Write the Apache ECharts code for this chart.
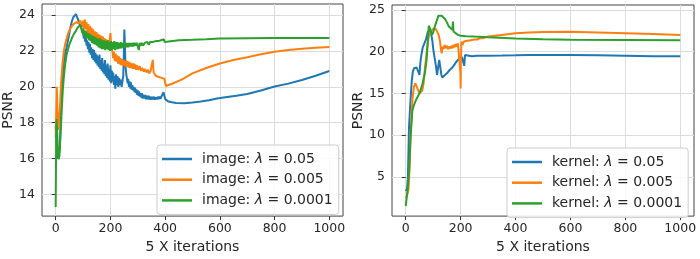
<!DOCTYPE html>
<html>
<head>
<meta charset="utf-8">
<script src="https://cdn.jsdelivr.net/npm/echarts@6.0.0/dist/echarts.min.js"></script>
<style>
html,body{margin:0;padding:0;background:#fff;}
#chart{width:700px;height:259px;}
</style>
</head>
<body>
<div id="chart"></div>
<script>
// ---------- data ----------
const xTicks = [0, 200, 400, 600, 800, 1000];
const yTicksImage = [14, 16, 18, 20, 22, 24];
const yTicksKernel = [5, 10, 15, 20, 25];

const imageNames = ['image: λ = 0.05', 'image: λ = 0.005', 'image: λ = 0.0001'];
const kernelNames = ['kernel: λ = 0.05', 'kernel: λ = 0.005', 'kernel: λ = 0.0001'];

const imageL005 = [[0,17.8],[3,17.0],[6,16.5],[9,16.0],[12,15.9],[15,16.6],[18,18.0],[22,19.6],[26,20.7],[30,21.4],[35,21.9],[40,22.2],[45,22.6],[50,23.0],[55,23.4],[60,23.7],[65,23.9],[70,24.0],[74,24.05],[78,23.95],[82,23.75],[86,23.55],[90,23.4],[95,23.2],[100,23.0],[103,22.7],[105,22.9],[108,22.5],[110,22.75],[113,22.3],[115,22.6],[118,22.1],[120,22.5],[123,21.9],[125,22.4],[128,21.8],[130,22.2],[133,21.6],[135,22.1],[138,21.5],[140,22.05],[143,21.4],[145,21.9],[148,21.3],[150,21.8],[153,21.2],[155,21.7],[158,21.1],[160,21.8],[163,21.0],[165,21.5],[168,20.9],[170,21.6],[173,20.8],[175,21.3],[178,20.7],[180,21.5],[183,20.6],[185,21.2],[188,20.5],[190,21.3],[193,20.4],[195,21.0],[198,20.3],[200,21.2],[203,20.2],[205,20.9],[208,20.3],[210,20.8],[213,20.1],[215,20.6],[218,19.9],[220,20.7],[223,20.1],[226,20.6],[229,20.0],[232,20.5],[235,20.1],[238,20.4],[241,20.0],[244,20.3],[247,20.6],[249,21.8],[251,23.2],[253,22.3],[255,21.2],[258,20.7],[260,20.5],[263,20.2],[265,20.45],[268,20.0],[270,20.3],[273,19.9],[275,20.25],[278,19.85],[280,20.1],[283,19.8],[285,20.0],[288,19.7],[290,19.95],[293,19.65],[295,19.85],[298,19.55],[300,19.8],[303,19.5],[305,19.75],[308,19.45],[310,19.65],[313,19.4],[315,19.65],[318,19.35],[320,19.55],[325,19.35],[328,19.55],[330,19.3],[333,19.5],[336,19.3],[340,19.5],[343,19.3],[346,19.45],[350,19.28],[353,19.45],[356,19.3],[360,19.45],[363,19.28],[366,19.42],[370,19.3],[373,19.45],[376,19.32],[380,19.45],[383,19.32],[386,19.45],[390,19.38],[394,19.7],[397,19.5],[401,19.3],[410,19.2],[420,19.15],[440,19.1],[470,19.08],[500,19.12],[530,19.18],[560,19.25],[590,19.35],[620,19.42],[660,19.5],[700,19.6],[750,19.8],[800,20.02],[850,20.18],[900,20.38],[950,20.62],[1000,20.88]];

const imageL0005 = [[0,17.2],[2,18.5],[4,20.0],[6,18.8],[8,17.8],[10,17.6],[13,18.2],[16,19.0],[20,20.3],[25,21.3],[30,22.0],[35,22.4],[40,22.7],[45,22.95],[50,23.15],[55,23.3],[60,23.4],[65,23.5],[70,23.55],[75,23.6],[80,23.65],[85,23.55],[90,23.7],[95,23.75],[98,23.35],[101,23.7],[104,23.2],[107,23.75],[110,23.2],[113,23.6],[116,23.0],[119,23.5],[122,22.9],[125,23.4],[128,22.8],[131,23.3],[134,22.75],[137,23.2],[140,22.7],[143,23.1],[146,22.6],[149,23.05],[152,22.55],[155,22.95],[158,22.5],[161,22.9],[164,22.45],[167,22.85],[170,22.4],[173,22.8],[176,22.35],[179,22.7],[182,22.3],[185,22.65],[188,22.25],[191,22.6],[194,22.3],[197,22.5],[200,23.0],[203,22.2],[207,22.0],[210,21.6],[213,21.95],[216,21.45],[219,21.85],[222,21.4],[225,21.75],[228,21.3],[231,21.7],[234,21.25],[237,21.6],[240,21.2],[243,21.55],[246,21.2],[249,21.5],[252,21.15],[255,21.45],[258,21.1],[261,21.45],[264,21.1],[267,21.4],[270,21.05],[273,21.35],[276,21.05],[279,21.3],[282,21.0],[285,21.3],[288,21.0],[291,21.25],[294,20.95],[297,21.2],[302,20.95],[307,21.15],[312,20.9],[317,21.05],[322,20.85],[327,21.0],[332,20.8],[337,20.95],[342,20.75],[347,20.9],[352,20.85],[355,21.5],[358,20.8],[362,20.75],[367,20.6],[372,20.7],[377,20.55],[382,20.65],[387,20.5],[392,20.6],[397,20.45],[400,20.5],[403,20.05],[410,20.05],[430,20.2],[460,20.4],[500,20.75],[550,21.05],[600,21.3],[650,21.5],[700,21.65],[750,21.82],[800,21.96],[850,22.05],[900,22.12],[950,22.18],[1000,22.22]];

const imageL00001 = [[0,13.3],[1,15.5],[2,17.5],[3,18.2],[5,17.6],[8,16.6],[11,15.95],[14,16.2],[18,17.4],[22,18.7],[26,19.8],[30,20.6],[35,21.3],[40,21.8],[45,22.1],[50,22.35],[55,22.55],[60,22.75],[65,22.9],[70,23.0],[75,23.15],[80,23.3],[85,23.4],[90,23.45],[94,23.3],[97,23.0],[100,23.25],[103,22.85],[106,23.15],[109,22.75],[112,23.1],[115,22.7],[118,23.0],[121,22.6],[124,22.95],[127,22.55],[130,22.9],[133,22.45],[136,22.85],[139,22.4],[142,22.8],[145,22.35],[148,22.75],[151,22.3],[154,22.7],[157,22.2],[160,22.7],[163,22.15],[166,22.65],[169,22.1],[172,22.6],[175,22.1],[178,22.6],[181,22.05],[184,22.55],[187,22.1],[190,22.6],[193,22.05],[196,22.5],[199,22.0],[202,22.55],[205,22.05],[208,22.5],[211,22.1],[214,22.55],[217,22.05],[220,22.5],[223,22.1],[226,22.5],[229,22.1],[232,22.45],[235,22.15],[238,22.5],[241,22.15],[244,22.45],[247,22.2],[250,22.5],[253,22.2],[256,22.45],[259,22.2],[262,22.45],[265,22.2],[268,22.45],[271,22.25],[274,22.45],[277,22.25],[280,22.45],[284,22.25],[288,22.45],[292,22.3],[296,22.45],[300,22.35],[304,22.05],[307,22.45],[311,22.3],[315,22.45],[320,22.3],[325,22.45],[330,22.35],[335,22.5],[340,22.35],[345,22.5],[350,22.4],[355,22.5],[360,22.4],[365,22.55],[370,22.45],[375,22.55],[380,22.45],[385,22.6],[390,22.5],[395,22.65],[398,22.5],[402,22.58],[450,22.6],[500,22.62],[550,22.65],[600,22.7],[700,22.71],[800,22.72],[900,22.72],[1000,22.73]];

const kernelL005 = [[0,3.3],[5,3.6],[8,5.0],[12,11.0],[18,14.5],[22,16.5],[26,17.6],[30,18.0],[35,18.2],[40,18.1],[45,17.9],[50,17.2],[53,18.6],[57,19.6],[62,20.5],[68,21.0],[74,21.5],[80,22.3],[86,22.6],[92,22.2],[97,21.3],[101,20.1],[105,19.3],[110,18.3],[114,17.2],[118,17.4],[122,19.0],[126,18.8],[130,17.2],[133,16.9],[140,17.1],[150,17.4],[160,17.8],[170,18.1],[176,18.3],[185,18.8],[195,19.2],[205,19.35],[210,19.45],[213,18.3],[216,19.6],[222,19.5],[240,19.45],[260,19.5],[300,19.5],[350,19.52],[400,19.55],[450,19.6],[500,19.6],[600,19.6],[700,19.55],[800,19.5],[900,19.45],[1000,19.45]];

const kernelL0005 = [[0,2.5],[5,2.8],[10,3.5],[14,6.0],[18,10.0],[22,13.0],[26,14.8],[30,15.8],[35,16.2],[40,15.8],[45,15.4],[50,15.0],[55,15.2],[60,15.3],[65,16.2],[70,18.0],[75,19.5],[80,21.0],[85,22.0],[90,22.4],[95,22.6],[100,22.7],[105,22.9],[110,22.7],[115,22.5],[120,22.0],[125,21.2],[128,20.3],[131,19.8],[134,20.6],[138,20.3],[142,20.8],[146,20.4],[150,20.7],[154,20.3],[158,20.6],[162,20.35],[166,20.7],[170,20.4],[174,20.8],[178,20.5],[182,20.9],[186,20.6],[190,21.0],[194,20.8],[197,21.1],[199,17.5],[200,15.6],[201,19.0],[203,21.2],[207,20.8],[212,21.2],[218,21.0],[224,21.3],[230,21.1],[236,21.35],[242,21.25],[250,21.45],[260,21.45],[270,21.6],[280,21.6],[290,21.7],[300,21.8],[350,22.0],[400,22.2],[450,22.3],[500,22.35],[600,22.38],[700,22.3],[800,22.2],[900,22.1],[1000,22.0]];

const kernelL00001 = [[0,1.5],[6,3.2],[12,5.5],[17,9.5],[24,12.9],[30,13.6],[36,14.1],[42,14.5],[50,15.0],[60,16.0],[70,17.5],[76,19.0],[80,21.0],[84,23.1],[88,22.8],[92,22.4],[96,22.0],[100,22.3],[104,22.8],[108,23.2],[114,23.8],[119,24.3],[125,24.35],[131,24.3],[137,24.4],[143,23.9],[150,23.5],[157,23.0],[164,22.8],[170,22.6],[172,23.6],[174,22.4],[180,22.3],[190,22.0],[200,21.9],[220,21.85],[250,21.8],[300,21.72],[400,21.58],[500,21.48],[600,21.42],[800,21.38],[1000,21.35]];

// ---------- chart ----------
const colors = ['#1f77b4', '#ff7f0e', '#2ca02c'];
const FONT = 'DejaVu Sans';
const textCol = '#262626';

function xAxisCfg(gi) {
  return {
    gridIndex: gi, type: 'value', min: -50, max: 1050,
    name: '5 X iterations', nameLocation: 'middle', nameGap: 19,
    nameTextStyle: { fontSize: 14, fontFamily: FONT, color: textCol },
    axisLine: { show: false },
    axisTick: { show: true, inside: false, length: 4, customValues: xTicks, lineStyle: { color: '#333', width: 1 } },
    axisLabel: { customValues: xTicks, fontSize: 12.5, fontFamily: FONT, color: textCol, margin: 6,
      formatter: function (v) { return String(v); } },
    splitLine: { show: true, lineStyle: { color: '#dcdcdc', width: 1 } }
  };
}
function yAxisCfg(gi, min, max, ticks) {
  return {
    gridIndex: gi, type: 'value', min: min, max: max,
    name: 'PSNR', nameLocation: 'middle', nameGap: 25,
    nameTextStyle: { fontSize: 14, fontFamily: FONT, color: textCol },
    axisLine: { show: false },
    axisTick: { show: true, inside: false, length: 4, customValues: ticks, lineStyle: { color: '#333', width: 1 } },
    axisLabel: { customValues: ticks, fontSize: 12.5, fontFamily: FONT, color: textCol, margin: 7,
      formatter: function (v) { return String(v); } },
    splitLine: { show: true, lineStyle: { color: '#dcdcdc', width: 1 } }
  };
}
function legendCfg(names, left, top) {
  return {
    data: names, orient: 'vertical', left: left, top: top,
    icon: 'rect', itemWidth: 30, itemHeight: 2.5, itemGap: 6.7,
    padding: [7, 6, 7, 5],
    backgroundColor: 'rgba(255,255,255,0.85)',
    borderColor: '#cccccc', borderWidth: 1, borderRadius: 3,
    formatter: function (n) { return '{s|}' + n.replace('λ', '{i|λ}'); },
    textStyle: {
      fontSize: 14, fontFamily: FONT, color: textCol, lineHeight: 14,
      rich: {
        s: { width: 5 },
        i: { fontStyle: 'italic', fontSize: 14, fontFamily: FONT, color: textCol, lineHeight: 14 }
      }
    }
  };
}
function lineSeries(name, data, idx, ci) {
  return {
    name: name, type: 'line', xAxisIndex: idx, yAxisIndex: idx, data: data,
    showSymbol: false, symbol: 'none', animation: false,
    lineStyle: { color: colors[ci], width: 2 }, itemStyle: { color: colors[ci] },
    z: 2 + ci
  };
}

const chart = echarts.init(document.getElementById('chart'), null, { renderer: 'canvas' });
chart.setOption({
  animation: false,
  backgroundColor: '#ffffff',
  grid: [
    { left: 42, top: 4, width: 301, height: 218, show: true, borderColor: '#444', borderWidth: 1, backgroundColor: 'transparent' },
    { left: 392, top: 5, width: 302, height: 217, show: true, borderColor: '#444', borderWidth: 1, backgroundColor: 'transparent' }
  ],
  xAxis: [xAxisCfg(0), xAxisCfg(1)],
  yAxis: [yAxisCfg(0, 12.79, 24.62, yTicksImage), yAxisCfg(1, 0.31, 25.58, yTicksKernel)],
  legend: [legendCfg(imageNames, 157, 145), legendCfg(kernelNames, 507, 148)],
  series: [
    lineSeries(imageNames[0], imageL005, 0, 0),
    lineSeries(imageNames[1], imageL0005, 0, 1),
    lineSeries(imageNames[2], imageL00001, 0, 2),
    lineSeries(kernelNames[0], kernelL005, 1, 0),
    lineSeries(kernelNames[1], kernelL0005, 1, 1),
    lineSeries(kernelNames[2], kernelL00001, 1, 2)
  ]
});
</script>
</body>
</html>
